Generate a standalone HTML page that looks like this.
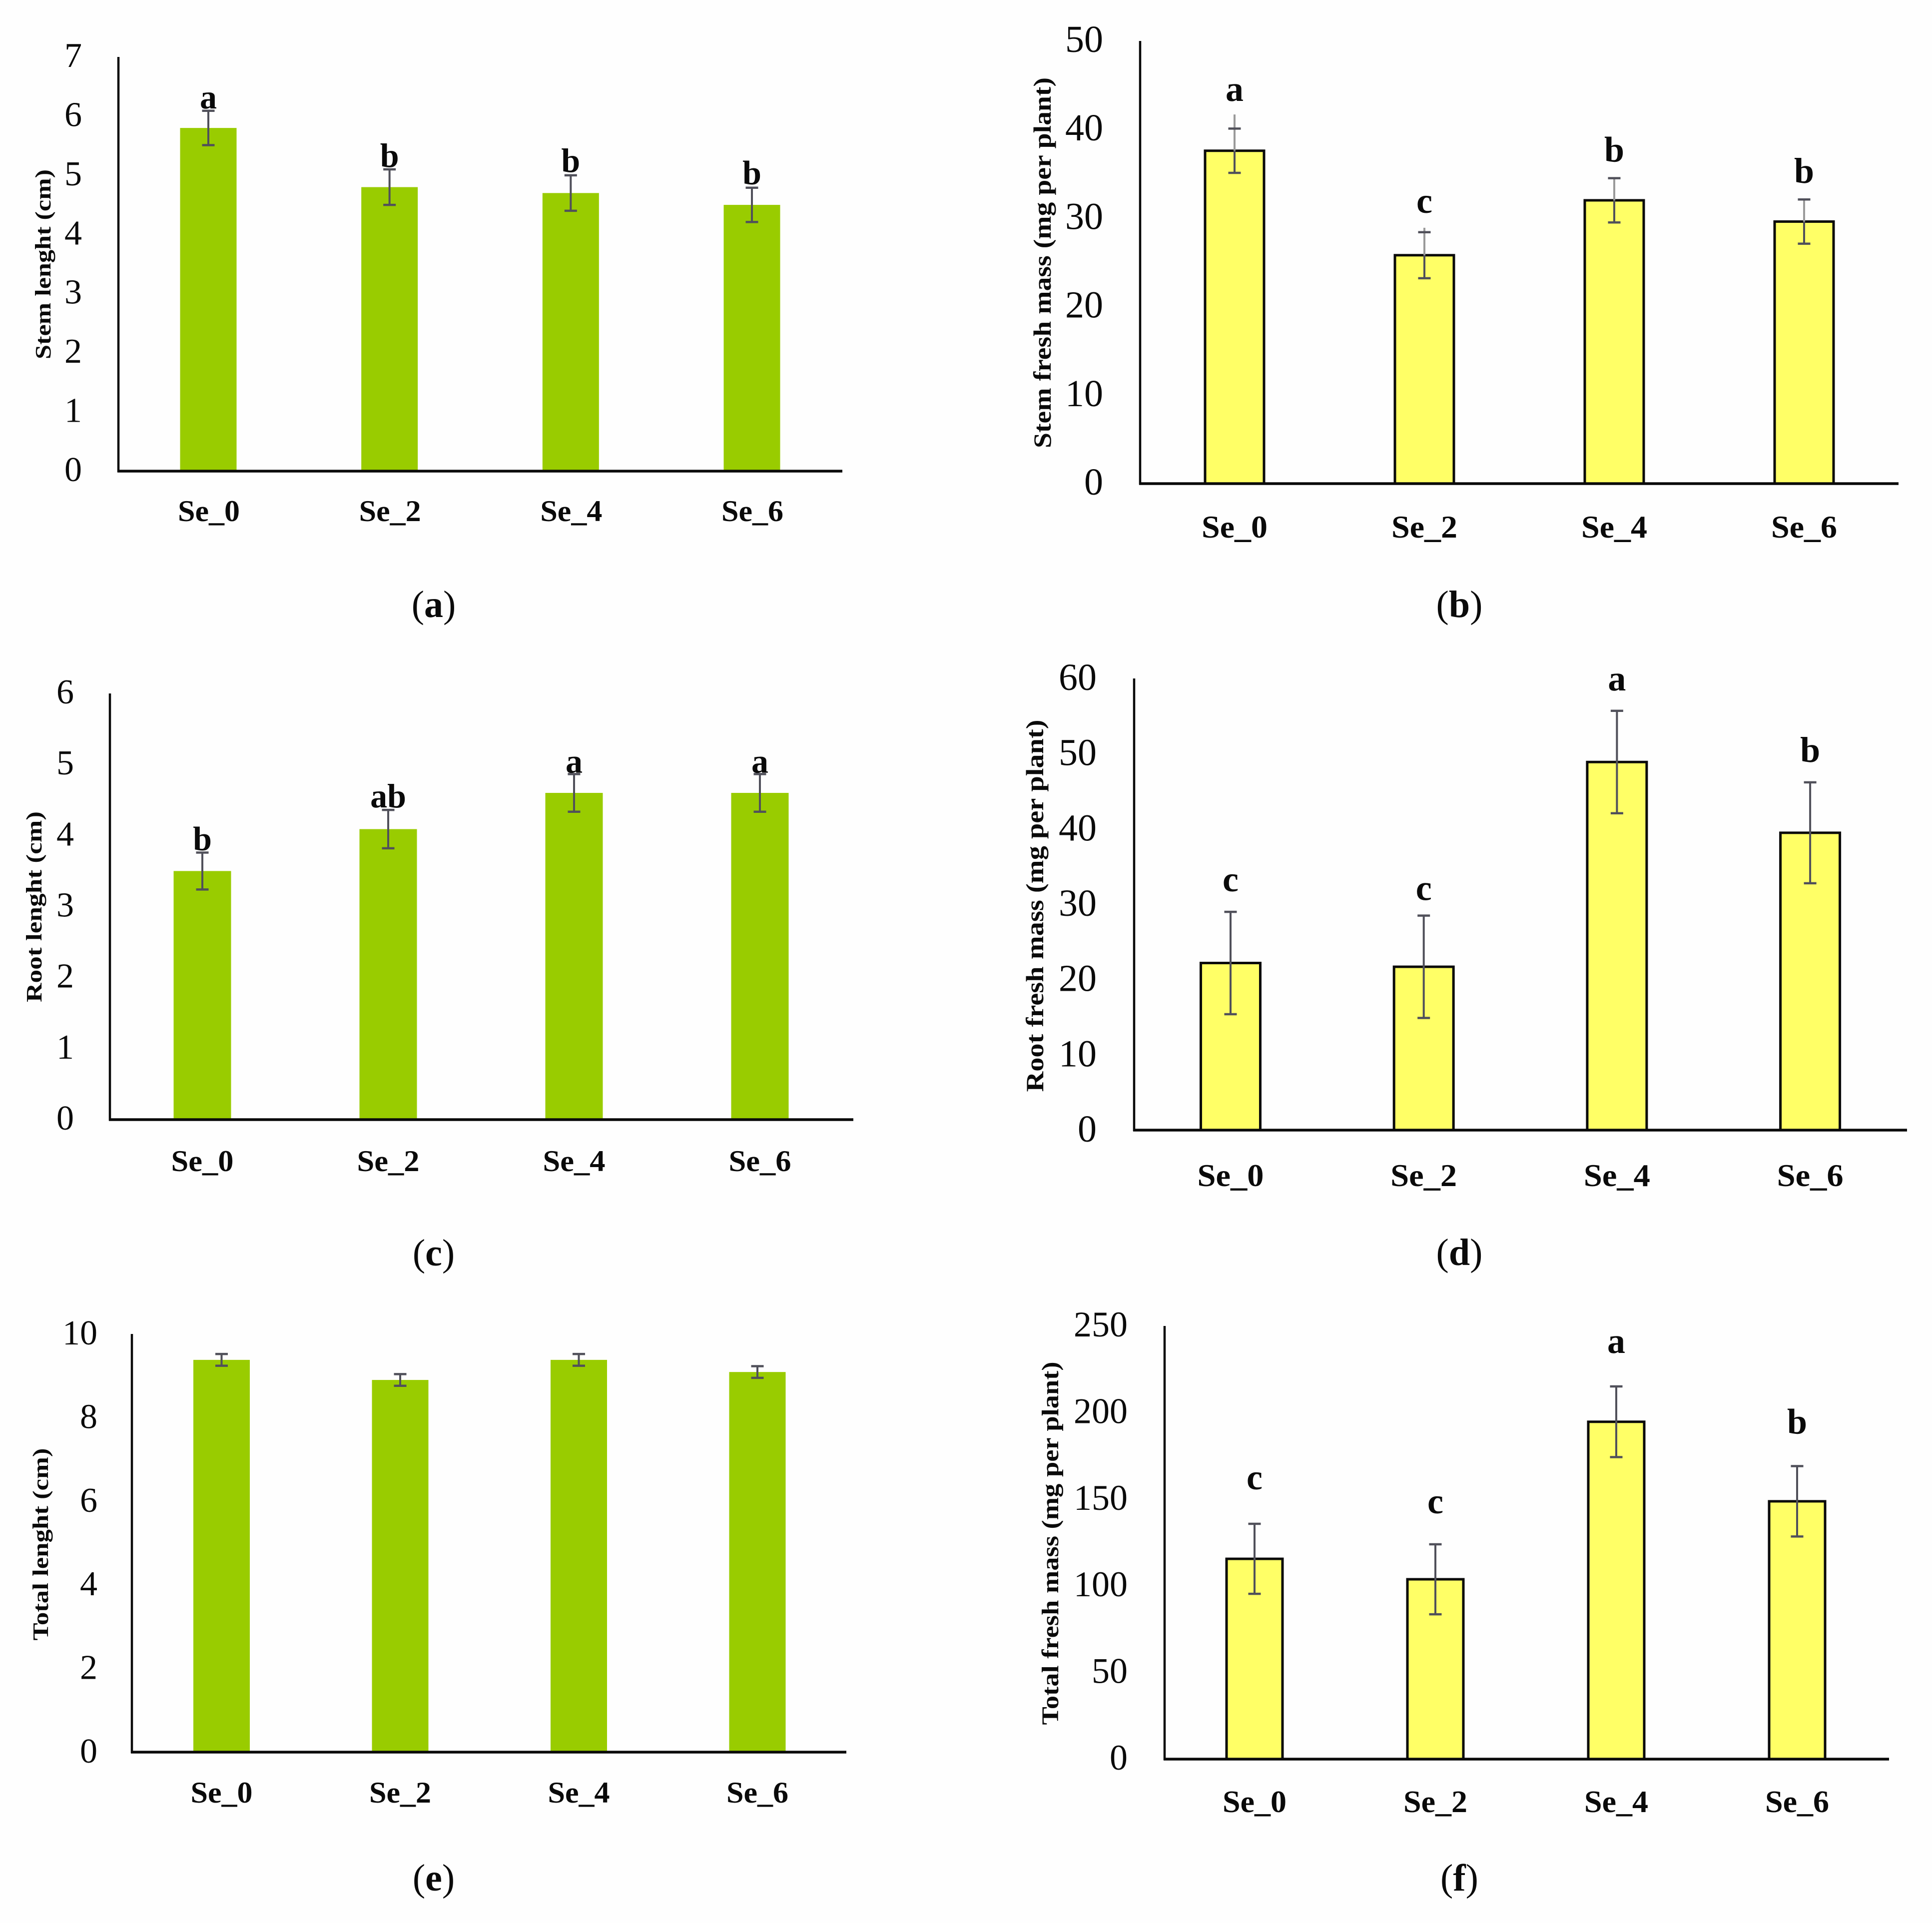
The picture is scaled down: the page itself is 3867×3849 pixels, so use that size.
<!DOCTYPE html>
<html lang="en">
<head>
<meta charset="utf-8">
<title>Selenium treatment growth charts</title>
<style>
html,body{margin:0;padding:0;background:#fefefe;width:3867px;height:3849px;overflow:hidden}
svg{display:block}
text{font-family:"Liberation Serif",serif;fill:#0a0a0a}
</style>
</head>
<body>
<svg id="figure" xmlns="http://www.w3.org/2000/svg" width="3867" height="3849" viewBox="0 0 3867 3849"></svg>
<script>
const categories = ['Se_0', 'Se_2', 'Se_4', 'Se_6'];

const stemLengthTicks = [0, 1, 2, 3, 4, 5, 6, 7];
const stemLengthValues = [5.8, 4.8, 4.7, 4.5];
const stemLengthErrors = [0.29, 0.3, 0.3, 0.29];
const stemLengthLetters = ['a', 'b', 'b', 'b'];

const stemMassTicks = [0, 10, 20, 30, 40, 50];
const stemMassValues = [37.6, 25.8, 32.0, 29.6];
const stemMassErrors = [2.5, 2.6, 2.5, 2.5];
const stemMassWhiskerTops = [41.7, 28.9, 34.5, 32.1];
const stemMassLetters = ['a', 'c', 'b', 'b'];

const rootLengthTicks = [0, 1, 2, 3, 4, 5, 6];
const rootLengthValues = [3.5, 4.09, 4.6, 4.6];
const rootLengthErrors = [0.26, 0.27, 0.265, 0.265];
const rootLengthLetters = ['b', 'ab', 'a', 'a'];

const rootMassTicks = [0, 10, 20, 30, 40, 50, 60];
const rootMassValues = [22.2, 21.7, 48.9, 39.5];
const rootMassErrors = [6.8, 6.8, 6.8, 6.7];
const rootMassLetters = ['c', 'c', 'a', 'b'];

const totalLengthTicks = [0, 2, 4, 6, 8, 10];
const totalLengthValues = [9.38, 8.9, 9.38, 9.09];
const totalLengthErrors = [0.14, 0.14, 0.14, 0.14];
const totalLengthLetters = ['', '', '', ''];

const totalMassTicks = [0, 50, 100, 150, 200, 250];
const totalMassValues = [115.6, 103.8, 194.7, 148.8];
const totalMassErrors = [20.2, 20.2, 20.4, 20.3];
const totalMassLetters = ['c', 'c', 'a', 'b'];

const GREEN = '#99cc00';
const YELLOW = '#ffff66';
const SVGNS = 'http://www.w3.org/2000/svg';
const figure = document.getElementById('figure');

const panels = [
  {key:'a', title:'Stem lenght (cm)', ticks:stemLengthTicks, values:stemLengthValues, errors:stemLengthErrors, letters:stemLengthLetters,
   axisX:237, right:1686, top:114, base:943, first:417, step:362.67, barW:113, fill:GREEN, outlined:false,
   tickGap:73, tickFont:70, tickDrop:20, catFont:60, catLen:124, catDrop:100, catShift:1, letterFont:68, letterGaps:[5,5,7,7],
   titleX:101, titleY:529, titleLen:380, titleFont:44, capX:868, capY:1235},
  {key:'b', title:'Stem fresh mass (mg per plant)', ticks:stemMassTicks, values:stemMassValues, errors:stemMassErrors, whiskerTops:stemMassWhiskerTops, letters:stemMassLetters,
   axisX:2282, right:3800, top:82, base:968, first:2471, step:380, barW:123, fill:YELLOW, outlined:true,
   tickGap:74, tickFont:76, tickDrop:22, catFont:64, catLen:132, catDrop:108, catShift:0, letterFont:72, letterGaps:[27,30,33,33],
   titleX:2103, titleY:526, titleLen:742, titleFont:50, capX:2921, capY:1235},
  {key:'c', title:'Root lenght (cm)', ticks:rootLengthTicks, values:rootLengthValues, errors:rootLengthErrors, letters:rootLengthLetters,
   axisX:220, right:1708, top:1388, base:2241, first:405, step:372, barW:115, fill:GREEN, outlined:false,
   tickGap:72, tickFont:70, tickDrop:20, catFont:60, catLen:125, catDrop:103, catShift:0, letterFont:68, letterGaps:[5,5,3,3],
   titleX:83, titleY:1815, titleLen:382, titleFont:44, capX:868, capY:2533},
  {key:'d', title:'Root fresh mass (mg per plant)', ticks:rootMassTicks, values:rootMassValues, errors:rootMassErrors, letters:rootMassLetters,
   axisX:2270, right:3817, top:1358, base:2262, first:2463, step:386.7, barW:124, fill:YELLOW, outlined:true,
   tickGap:75, tickFont:76, tickDrop:23, catFont:64, catLen:133, catDrop:112, catShift:0, letterFont:72, letterGaps:[41,31,41,41],
   titleX:2088, titleY:1813, titleLen:745, titleFont:50, capX:2921, capY:2532},
  {key:'e', title:'Total lenght (cm)', ticks:totalLengthTicks, values:totalLengthValues, errors:totalLengthErrors, letters:totalLengthLetters,
   axisX:264, right:1694, top:2670, base:3507, first:443.5, step:357.5, barW:113, fill:GREEN, outlined:false,
   tickGap:69, tickFont:70, tickDrop:21, catFont:60, catLen:124, catDrop:101, catShift:0, letterFont:68, letterGaps:[5,5,5,5],
   titleX:96, titleY:3091, titleLen:385, titleFont:44, capX:868, capY:3784},
  {key:'f', title:'Total fresh mass (mg per plant)', ticks:totalMassTicks, values:totalMassValues, errors:totalMassErrors, letters:totalMassLetters,
   axisX:2331, right:3781, top:2654, base:3521, first:2511, step:362, barW:117, fill:YELLOW, outlined:true,
   tickGap:74, tickFont:72, tickDrop:21, catFont:62, catLen:128, catDrop:106, catShift:0, letterFont:72, letterGaps:[69,62,67,65],
   titleX:2118, titleY:3089, titleLen:727, titleFont:48, capX:2921, capY:3784}
];

function make(tag, attrs, parent, content) {
  const el = document.createElementNS(SVGNS, tag);
  Object.keys(attrs).forEach(function (k) { el.setAttribute(k, attrs[k]); });
  if (content !== undefined) el.textContent = content;
  parent.appendChild(el);
  return el;
}

function drawPanel(p) {
  const maxTick = p.ticks[p.ticks.length - 1];
  const yOf = function (v) { return p.base - (v / maxTick) * (p.base - p.top); };
  const xOf = function (i) { return p.first + i * p.step; };

  const g = make('g', {}, figure);
  
  

  p.values.forEach(function (v, i) {
    const cx = xOf(i);
    const sw = p.outlined ? 5 : 0;
    const bar = make('rect', {
      x: cx - p.barW / 2 + sw / 2,
      y: yOf(v),
      width: p.barW - sw,
      height: p.base - yOf(v),
      fill: p.fill,
      stroke: p.outlined ? '#0a0a0a' : 'none',
      'stroke-width': sw
    }, g);
    
    
  });

  p.values.forEach(function (v, i) {
    const cx = xOf(i);
    const hi = yOf(v + p.errors[i]);
    const lo = yOf(v - p.errors[i]);
    const top = p.whiskerTops ? yOf(p.whiskerTops[i]) : hi;
    if (p.whiskerTops) {
      const upper = make('line', {x1: cx, x2: cx, y1: top, y2: yOf(v), stroke: '#9a9a9a', 'stroke-width': 4}, g);
      
      
      const lower = make('line', {x1: cx, x2: cx, y1: yOf(v), y2: lo, stroke: '#50505a', 'stroke-width': 4}, g);
      
      
    } else {
      const whisker = make('line', {x1: cx, x2: cx, y1: hi, y2: lo, stroke: '#50505a', 'stroke-width': 4}, g);
      
      
    }
    const capTop = make('line', {x1: cx - 12.5, x2: cx + 12.5, y1: hi, y2: hi, stroke: '#50505a', 'stroke-width': 4.5}, g);
    
    
    const capBottom = make('line', {x1: cx - 12.5, x2: cx + 12.5, y1: lo, y2: lo, stroke: '#50505a', 'stroke-width': 4.5}, g);
    
    

    if (p.letters[i]) {
      const letter = make('text', {
        x: cx, y: top - p.letterGaps[i], 'text-anchor': 'middle',
        'font-size': p.letterFont, 'font-weight': 'bold'
      }, g, p.letters[i]);
      
      
    }

    const cat = make('text', {
      x: cx + p.catShift, y: p.base + p.catDrop, 'text-anchor': 'middle',
      'font-size': p.catFont, 'font-weight': 'bold',
      textLength: p.catLen, lengthAdjust: 'spacingAndGlyphs'
    }, g, categories[i]);
    
    
  });

  const yAxis = make('line', {x1: p.axisX, x2: p.axisX, y1: p.top, y2: p.base + 2, stroke: '#0a0a0a', 'stroke-width': 4.5}, g);
  
  
  const xAxis = make('line', {x1: p.axisX - 2, x2: p.right, y1: p.base, y2: p.base, stroke: '#0a0a0a', 'stroke-width': 5.5}, g);
  
  

  p.ticks.forEach(function (t) {
    const tick = make('text', {
      x: p.axisX - p.tickGap, y: yOf(t) + p.tickDrop, 'text-anchor': 'end',
      'font-size': p.tickFont
    }, g, String(t));
    
    
  });

  const title = make('text', {
    x: p.titleX, y: p.titleY, 'text-anchor': 'middle',
    transform: 'rotate(-90 ' + p.titleX + ' ' + p.titleY + ')',
    'font-size': p.titleFont, 'font-weight': 'bold',
    textLength: p.titleLen, lengthAdjust: 'spacingAndGlyphs'
  }, g, p.title);
  
  

  const caption = make('text', {x: p.capX, y: p.capY, 'text-anchor': 'middle', 'font-size': 76}, g);
  
  
  make('tspan', {}, caption, '(');
  make('tspan', {'font-weight': 'bold'}, caption, p.key);
  make('tspan', {}, caption, ')');
}

panels.forEach(drawPanel);
</script>
</body>
</html>
